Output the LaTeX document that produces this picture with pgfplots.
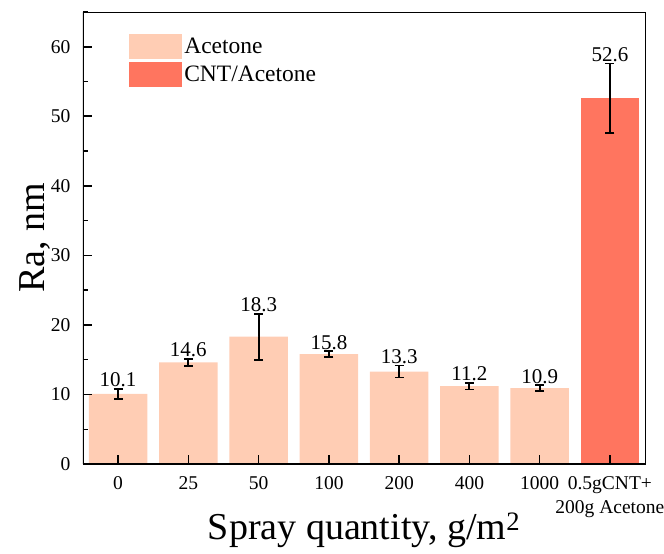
\documentclass[border=0pt]{standalone}
\usepackage{pgfplots}
\pgfplotsset{compat=1.18}
\usepackage{fontspec}
\setmainfont{Liberation Serif}
\definecolor{acet}{RGB}{255,205,180}
\definecolor{cnt}{RGB}{255,117,95}
\begin{document}
\begin{tikzpicture}
\begin{axis}[name=ax, width=562pt, height=452pt, scale only axis,
  axis on top,
  xmin=-0.5, xmax=7.5, ymin=0, ymax=65,
  xtick={0,...,7},
  xticklabels={0,25,50,100,200,400,1000,{0.5gCNT+\\200g Acetone}},
  ytick={0,10,20,30,40,50,60},
  minor ytick={5,15,25,35,45,55,65},
  tick align=inside, xtick pos=left, ytick pos=left,
  major tick length=9pt, minor tick length=5pt,
  major tick style={draw=black, line width=1.6pt},
  minor tick style={draw=black, line width=1.4pt},
  axis line style={line width=0.8pt},
  /pgf/number format/assume math mode=true,
  tick label style={font=\fontsize{19.5}{24}\selectfont},
  xticklabel style={align=center, yshift=-9pt},
  yticklabel style={xshift=-9pt},
  xlabel={Spray quantity, g/m\textsuperscript{2}},
  ylabel={Ra, nm},
  label style={font=\fontsize{38}{44}\selectfont},
  xlabel style={at={(axis description cs:0.5,0)}, anchor=base, yshift=-76pt},
  ylabel style={at={(axis description cs:0,0.5)}, anchor=center, yshift=48pt},
  legend style={at={(axis description cs:0.082,0.951)}, anchor=north west, draw=none, fill=none,
    font=\fontsize{23.5}{27}\selectfont, inner sep=0pt, row sep=3pt,
    /tikz/every even column/.style={column sep=8pt}},
  legend cell align=left,
  legend image code/.code={\fill[#1] (0pt,-12.5pt) rectangle (53pt,12.5pt);},
]
\addplot[ybar, bar width=0.83, bar shift=0pt, fill=acet, draw=none,
  error bars/.cd, y dir=both, y explicit,
  error bar style={draw=black, line width=1.8pt},
  error mark options={draw=black, rotate=90, mark size=4.5pt, line width=1.8pt}]
  coordinates {(0,10.1) +- (0,0.7) (1,14.6) +- (0,0.5) (2,18.3) +- (0,3.3)
    (3,15.8) +- (0,0.4) (4,13.3) +- (0,0.85) (5,11.2) +- (0,0.5) (6,10.9) +- (0,0.45)};
\addlegendentry{Acetone}
\addplot[ybar, bar width=0.83, bar shift=0pt, fill=cnt, draw=none,
  error bars/.cd, y dir=both, y explicit,
  error bar style={draw=black, line width=1.8pt},
  error mark options={draw=black, rotate=90, mark size=4.5pt, line width=1.8pt}]
  coordinates {(7,52.6) +- (0,5.0)};
\addlegendentry{CNT/Acetone}
\addplot[draw=none, mark=none, forget plot, nodes near coords, point meta=explicit symbolic,
  nodes near coords style={anchor=south, font=\fontsize{21}{25}\selectfont, inner sep=1.5pt}]
  coordinates {(0,10.8)[10.1] (1,15.1)[14.6] (2,21.6)[18.3] (3,16.2)[15.8]
    (4,14.15)[13.3] (5,11.7)[11.2] (6,11.35)[10.9] (7,57.6)[52.6]};
\draw[line width=2pt] (rel axis cs:0,1) -- (rel axis cs:0,0) -- (rel axis cs:1,0);
\end{axis}
\pgfresetboundingbox
\path[use as bounding box] ([shift={(-83pt,-90pt)}]ax.south west) rectangle ([shift={(19pt,12pt)}]ax.north east);
\end{tikzpicture}
\end{document}
